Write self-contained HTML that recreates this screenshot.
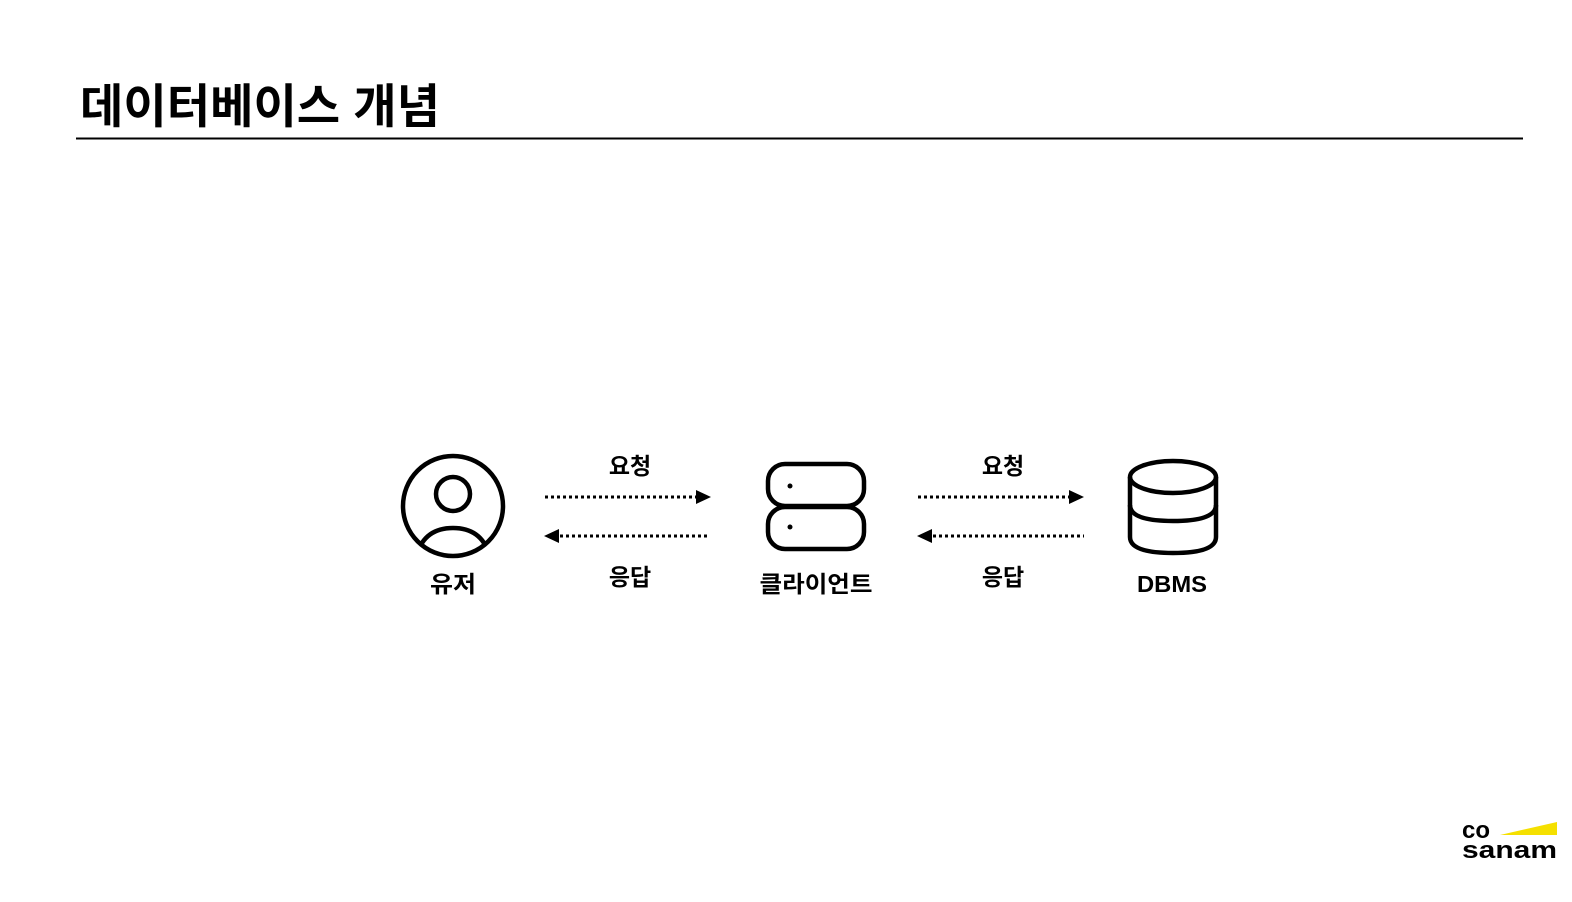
<!DOCTYPE html>
<html><head><meta charset="utf-8"><style>
body{margin:0;width:1572px;height:902px;background:#fff;overflow:hidden;font-family:"Liberation Sans","Noto Sans CJK KR",sans-serif}
</style></head><body>
<svg width="1572" height="902" xmlns="http://www.w3.org/2000/svg" style="position:absolute;left:0;top:0">
<text x="80" y="123" font-size="47" font-weight="bold" font-family="Liberation Sans, Noto Sans CJK KR, sans-serif" fill="#000" textLength="360" lengthAdjust="spacingAndGlyphs">데이터베이스 개념</text>
<line x1="76" y1="138.5" x2="1523" y2="138.5" stroke="#000" stroke-width="2"/>
<defs><clipPath id="c"><circle cx="453" cy="506" r="50"/></clipPath></defs>
<g fill="none" stroke="#000" stroke-width="4.5">
<circle cx="453" cy="506" r="50"/>
<circle cx="453" cy="494" r="17"/>
<path d="M417 554 Q425 528 453 528 Q481 528 489 554" clip-path="url(#c)"/>
<rect x="768" y="464" width="96" height="42" rx="17"/>
<rect x="768" y="507" width="96" height="42" rx="17"/>
<ellipse cx="1173" cy="477" rx="43" ry="16"/>
<path d="M1130 477 V537 Q1130 553 1173 553 Q1216 553 1216 537 V477"/>
<path d="M1130 505 Q1130 521 1173 521 Q1216 521 1216 505"/>
</g>
<circle cx="790" cy="486" r="2.5"/><circle cx="790" cy="527" r="2.5"/>
<g stroke="#000" stroke-width="3" stroke-dasharray="3 3">
<line x1="545" y1="497" x2="697" y2="497"/>
<line x1="560" y1="536" x2="710" y2="536"/>
<line x1="918" y1="497" x2="1070" y2="497"/>
<line x1="933" y1="536" x2="1084" y2="536"/>
</g>
<polygon points="696,490 711,497 696,504"/>
<polygon points="559,529 544,536 559,543"/>
<polygon points="1069,490 1084,497 1069,504"/>
<polygon points="932,529 917,536 932,543"/>
<g font-size="23" font-weight="bold" text-anchor="middle" font-family="Liberation Sans, Noto Sans CJK KR, sans-serif">
<text x="630" y="474">요청</text><text x="630" y="585">응답</text>
<text x="1003" y="474">요청</text><text x="1003" y="585">응답</text>
<text x="453" y="592" textLength="46" lengthAdjust="spacingAndGlyphs">유저</text>
<text x="816" y="592" textLength="113" lengthAdjust="spacingAndGlyphs">클라이언트</text>
<text x="1172" y="592" textLength="70" lengthAdjust="spacingAndGlyphs">DBMS</text>
</g>
<polygon points="1500,835 1557,822 1557,835" fill="#f5e000"/>
<g font-size="24" font-weight="bold" font-family="Liberation Sans, sans-serif">
<text x="1462" y="838">co</text><text x="1462" y="858" textLength="95" lengthAdjust="spacingAndGlyphs">sanam</text>
</g>
</svg>
</body></html>
